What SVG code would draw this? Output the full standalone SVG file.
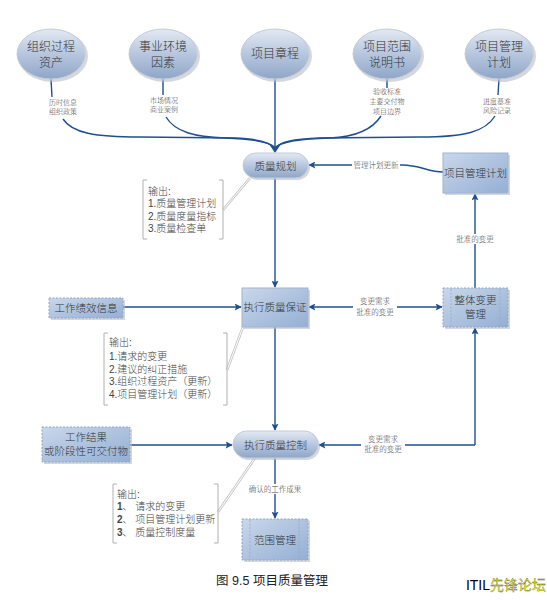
<svg xmlns="http://www.w3.org/2000/svg" width="547" height="600" viewBox="0 0 547 600">
<defs>
<linearGradient id="gE" x1="0" y1="0" x2="0" y2="1">
<stop offset="0" stop-color="#e3e9f3"/><stop offset="0.55" stop-color="#b3c3dc"/><stop offset="1" stop-color="#8fa6c8"/>
</linearGradient>
<linearGradient id="gB" x1="0" y1="0" x2="1" y2="1">
<stop offset="0" stop-color="#c9d7ea"/><stop offset="1" stop-color="#94afd4"/>
</linearGradient>
<marker id="ar" viewBox="0 0 10 10" refX="9" refY="5" markerWidth="8" markerHeight="7" markerUnits="userSpaceOnUse" orient="auto-start-reverse">
<path d="M0,0 L10,5 L0,10 L2,5 z" fill="#1f4f8f"/>
</marker>
<style>
.nt{font-family:"Liberation Serif","Noto Sans CJK SC",serif;fill:#333;text-anchor:middle;font-weight:300;}
.big{font-size:12px;}
.mid{font-size:10.5px;}
.sm{font-size:7px;fill:#444;}
.lb{font-size:7.5px;fill:#444;font-family:"Liberation Serif","Noto Sans CJK SC",serif;text-anchor:middle;font-weight:300;}
.ot{font-family:"Liberation Sans","Noto Sans CJK SC",sans-serif;font-size:10px;fill:#444;font-weight:300;}
.ell{fill:url(#gE);stroke:#c3ccd8;stroke-width:1;}
.sh{fill:#b9bdc4;opacity:0.6;}
.box{fill:url(#gB);stroke:#9fb4d2;stroke-width:1;}
.dbox{fill:url(#gB);stroke:#8ea6c8;stroke-width:1;stroke-dasharray:2,1.5;}
.cn{fill:none;stroke:#1f4f8f;stroke-width:1.4;}
.ar{marker-end:url(#ar);}
.br{fill:none;stroke:#b0b0b0;stroke-width:1;}
.gl{fill:none;stroke:#c6c6c6;stroke-width:2.6;}
.gw{fill:none;stroke:#ffffff;stroke-width:1;}
</style>
</defs>
<rect width="547" height="600" fill="#ffffff"/>

<g id="connectors">
<path class="cn" d="M51,79 L52,97"/>
<path class="cn" d="M63,119 C72,133 95,137 140,137 L235,138 C258,139 270,142 275,148"/>
<path class="cn" d="M163,79 L163,95"/>
<path class="cn" d="M166,117 C175,132 195,137 225,138 C255,139 270,142 275,148"/>
<path class="cn" d="M275,79 L275,148"/>
<path class="cn" d="M387,79 L387,88"/>
<path class="cn" d="M381,116 C372,130 355,137 330,138 C295,139 280,142 275,148"/>
<path class="cn" d="M499,79 L498,95"/>
<path class="cn" d="M495,116 C485,132 465,137 420,137 L320,138 C292,139 280,142 275,148"/>
<path d="M269,144 L275,147 L281,144 L275,153 z" fill="#1f4f8f"/>
<path class="cn ar" d="M275,178 L275,287"/>
<path class="cn ar" d="M123,307 L241,307"/>
<path class="cn ar" d="M309,307 L442,307" marker-start="url(#ar)"/>
<path class="cn ar" d="M475,288 L475,194"/>
<path class="cn ar" d="M443,172 C428,172 420,165 402,165 L309,165"/>
<path class="cn ar" d="M275,327 L275,430"/>
<path class="cn ar" d="M130,445 L232,445"/>
<path class="cn ar" d="M475,445 L475,328"/>
<path class="cn ar" d="M475,445 L319,445"/>
<path class="cn ar" d="M275,458 L275,518"/>
<rect x="352" y="160" width="48" height="10" fill="#fff"/>
<text class="lb" x="376" y="168">管理计划更新</text>
<rect x="455" y="234" width="40" height="10" fill="#fff"/>
<text class="lb" x="475" y="242">批准的变更</text>
<rect x="353" y="296" width="44" height="21" fill="#fff"/>
<text class="lb" x="375" y="304">变更需求</text>
<text class="lb" x="375" y="315">批准的变更</text>
<rect x="361" y="434" width="44" height="20" fill="#fff"/>
<text class="lb" x="383" y="442">变更需求</text>
<text class="lb" x="383" y="452">批准的变更</text>
<rect x="247" y="484" width="56" height="10" fill="#fff"/>
<text class="lb" x="275" y="492">确认的工作成果</text>
<path class="gl" d="M223,210 L250,178"/><path class="gw" d="M223,210 L250,178"/>
<path class="gl" d="M227,370 L243,327"/><path class="gw" d="M227,370 L243,327"/>
<path class="gl" d="M218,512 L255,458"/><path class="gw" d="M218,512 L255,458"/>
</g>

<g id="n-org">
<ellipse class="sh" cx="53" cy="56" rx="35" ry="26"/>
<ellipse class="ell" cx="51" cy="54" rx="34" ry="25"/>
<text class="nt big" x="51" y="51">组织过程</text>
<text class="nt big" x="51" y="67">资产</text>
<text class="nt sm" x="63" y="105">历时信息</text>
<text class="nt sm" x="63" y="114">组织政策</text>
</g>
<g id="n-env">
<ellipse class="sh" cx="165" cy="56" rx="35" ry="26"/>
<ellipse class="ell" cx="163" cy="54" rx="34" ry="25"/>
<text class="nt big" x="163" y="51">事业环境</text>
<text class="nt big" x="163" y="67">因素</text>
<text class="nt sm" x="164" y="103">市场情况</text>
<text class="nt sm" x="164" y="112">商业案例</text>
</g>
<g id="n-charter">
<ellipse class="sh" cx="277" cy="56" rx="35" ry="26"/>
<ellipse class="ell" cx="275" cy="54" rx="34" ry="25"/>
<text class="nt big" x="275" y="58">项目章程</text>
</g>
<g id="n-scope">
<ellipse class="sh" cx="389" cy="56" rx="35" ry="26"/>
<ellipse class="ell" cx="387" cy="54" rx="34" ry="25"/>
<text class="nt big" x="387" y="51">项目范围</text>
<text class="nt big" x="387" y="67">说明书</text>
<text class="nt sm" x="387" y="94">验收标准</text>
<text class="nt sm" x="387" y="104">主要交付物</text>
<text class="nt sm" x="387" y="114">项目边界</text>
</g>
<g id="n-pmp">
<ellipse class="sh" cx="501" cy="56" rx="35" ry="26"/>
<ellipse class="ell" cx="499" cy="54" rx="34" ry="25"/>
<text class="nt big" x="499" y="51">项目管理</text>
<text class="nt big" x="499" y="67">计划</text>
<text class="nt sm" x="497" y="104">进度基准</text>
<text class="nt sm" x="497" y="113">风险记录</text>
</g>

<g id="n-qplan">
<rect class="sh" x="245" y="155" width="65" height="25" rx="12.5"/>
<rect class="ell" x="243" y="153" width="65" height="25" rx="12.5"/>
<text class="nt mid" x="275.5" y="169.5">质量规划</text>
</g>
<g id="n-pmp-box">
<rect class="sh" x="445" y="155" width="65" height="40"/>
<rect class="box" x="443" y="153" width="65" height="40"/>
<text class="nt mid" x="475.5" y="177">项目管理计划</text>
</g>
<g id="n-qa">
<rect class="sh" x="244" y="290" width="66" height="39"/>
<rect class="box" x="242" y="288" width="66" height="39"/>
<text class="nt mid" x="275" y="311">执行质量保证</text>
</g>
<g id="n-icc">
<rect class="sh" x="445" y="290" width="65" height="39"/>
<rect class="dbox" x="443" y="288" width="65" height="39"/>
<line x1="451" y1="289" x2="451" y2="326" stroke="#8ea6c8" stroke-width="0.7" stroke-dasharray="2,1.5"/>
<line x1="500" y1="289" x2="500" y2="326" stroke="#8ea6c8" stroke-width="0.7" stroke-dasharray="2,1.5"/>
<text class="nt mid" x="475.5" y="304">整体变更</text>
<text class="nt mid" x="475.5" y="318">管理</text>
</g>
<g id="n-wpi">
<rect class="sh" x="51" y="300" width="74" height="20"/>
<rect class="dbox" x="49" y="298" width="74" height="20"/>
<text class="nt mid" x="86" y="312">工作绩效信息</text>
</g>
<g id="n-qc">
<rect class="sh" x="235" y="433" width="85" height="27" rx="13.5"/>
<rect class="ell" x="233" y="431" width="85" height="27" rx="13.5"/>
<text class="nt mid" x="275.5" y="448.5">执行质量控制</text>
</g>
<g id="n-work">
<rect class="sh" x="44" y="429" width="88" height="35"/>
<rect class="dbox" x="42" y="427" width="88" height="35"/>
<text class="nt mid" x="86" y="441">工作结果</text>
<text class="nt mid" x="86" y="455">或阶段性可交付物</text>
</g>
<g id="n-scopemgmt">
<rect class="sh" x="244" y="521" width="66" height="41"/>
<rect class="dbox" x="242" y="519" width="66" height="41"/>
<line x1="250" y1="520" x2="250" y2="559" stroke="#8ea6c8" stroke-width="0.7" stroke-dasharray="2,1.5"/>
<line x1="299" y1="520" x2="299" y2="559" stroke="#8ea6c8" stroke-width="0.7" stroke-dasharray="2,1.5"/>
<text class="nt mid" x="275" y="544">范围管理</text>
</g>

<g id="n-out1">
<path class="br" d="M147,180 L143,180 L143,239 L147,239"/>
<path class="br" d="M219,180 L223,180 L223,239 L219,239"/>
<text class="ot" x="148" y="195">输出:</text>
<text class="ot" x="148" y="207">1.质量管理计划</text>
<text class="ot" x="148" y="219.5">2.质量度量指标</text>
<text class="ot" x="148" y="232">3.质量检查单</text>
</g>
<g id="n-out2">
<path class="br" d="M108,333 L104,333 L104,405 L108,405"/>
<path class="br" d="M223,333 L227,333 L227,405 L223,405"/>
<text class="ot" x="109" y="346">输出:</text>
<text class="ot" x="109" y="360">1.请求的变更</text>
<text class="ot" x="109" y="372.5">2.建议的纠正措施</text>
<text class="ot" x="109" y="385">3.组织过程资产（更新）</text>
<text class="ot" x="109" y="398">4.项目管理计划（更新）</text>
</g>
<g id="n-out3">
<path class="br" d="M117,484 L113,484 L113,543 L117,543"/>
<path class="br" d="M214,484 L218,484 L218,543 L214,543"/>
<text class="ot" x="117" y="498">输出:</text>
<text class="ot" x="117" y="510"><tspan font-weight="bold">1</tspan>、 请求的变更</text>
<text class="ot" x="117" y="523"><tspan font-weight="bold">2</tspan>、 项目管理计划更新</text>
<text class="ot" x="117" y="536"><tspan font-weight="bold">3</tspan>、 质量控制度量</text>
</g>

<text x="272" y="585" font-family="Liberation Sans,'Noto Sans CJK SC',sans-serif" font-size="12.5" fill="#222" text-anchor="middle">图 9.5  项目质量管理</text>
<text x="546" y="590" font-family="Liberation Sans,'Noto Sans CJK SC',sans-serif" font-size="14" text-anchor="end"><tspan fill="#000">ITIL</tspan><tspan fill="#f2f200" stroke="#555" stroke-width="0.3">先锋论坛</tspan></text>
</svg>
